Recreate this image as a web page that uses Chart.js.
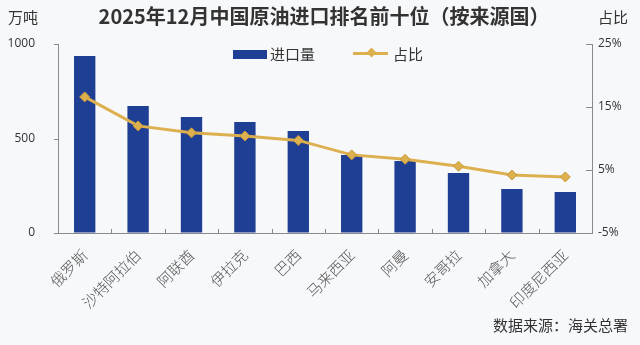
<!DOCTYPE html>
<html>
<head>
<meta charset="utf-8">
<script src="https://cdn.jsdelivr.net/npm/chart.js@4"></script>
<style>
  body { margin: 0; background: #f7f8fa; }
  #wrap { position: relative; width: 640px; height: 345px; font-family: "Noto Sans CJK SC", "Noto Sans", sans-serif; color: #333; }
  #wrap canvas { position: absolute; left: 0; top: 0; }
  .txt { position: absolute; white-space: nowrap; line-height: 1; }
  #title { left: 0; width: 648px; top: 6px; text-align: center; font-size: 20px; font-weight: bold; }
  .swatch { position: absolute; }
</style>
</head>
<body>
<div id="wrap">
  <canvas id="oilChart" width="640" height="345"></canvas>
  <div class="txt" id="title">2025年12月中国原油进口排名前十位（按来源国）</div>
  <div class="txt" style="left:8px;top:9px;font-size:15px;">万吨</div>
  <div class="txt" style="left:598px;top:9px;font-size:15px;">占比</div>
  <!-- legend -->
  <div class="swatch" style="left:233px;top:50px;width:34px;height:9px;background:#1e3f93;"></div>
  <div class="txt" style="left:270px;top:46px;font-size:15px;">进口量</div>
  <div class="swatch" style="left:353px;top:52px;width:35px;height:3px;background:#ddb04f;"></div>
  <div class="swatch" style="left:368px;top:49px;width:7px;height:7px;background:#ddb04f;transform:rotate(45deg);"></div>
  <div class="txt" style="left:393px;top:46px;font-size:15px;">占比</div>
  <div class="txt" style="right:12px;top:317px;font-size:15px;">数据来源：海关总署</div>
</div>
<script>
// top ten crude oil sources, Dec 2025
const countries = ['俄罗斯', '沙特阿拉伯', '阿联酋', '伊拉克', '巴西', '马来西亚', '阿曼', '安哥拉', '加拿大', '印度尼西亚'];
const importVolume = [936, 672, 614, 587, 540, 413, 381, 317, 233, 217];   // 万吨
const importShare = [16.6, 12.0, 10.9, 10.4, 9.7, 7.4, 6.7, 5.6, 4.2, 3.9];  // %

const leftTicks = [0, 500, 1000];
const rightTicks = [-5, 5, 15, 25];

const axisColor = '#8a8a8a';
const tickFont = { family: 'Open Sans', size: 12 };

// short tick marks: left axis outward, right axis and category axis inward
const axisTicks = {
  id: 'axisTicks',
  afterDraw(chart) {
    const { ctx, chartArea: a, scales } = chart;
    ctx.save();
    ctx.strokeStyle = axisColor;
    ctx.lineWidth = 1;
    ctx.beginPath();
    scales.y.ticks.forEach((t, i) => {
      const yy = Math.round(scales.y.getPixelForTick(i)) + 0.5;
      ctx.moveTo(a.left - 4, yy);
      ctx.lineTo(a.left, yy);
    });
    scales.y1.ticks.forEach((t, i) => {
      const yy = Math.round(scales.y1.getPixelForTick(i)) + 0.5;
      ctx.moveTo(a.right - 6, yy);
      ctx.lineTo(a.right, yy);
    });
    for (let i = 0; i <= countries.length; i++) {
      const xx = Math.round(scales.x.getPixelForValue(i - 0.5)) + 0.5;
      ctx.moveTo(xx, a.bottom);
      ctx.lineTo(xx, a.bottom - 4);
    }
    ctx.stroke();
    ctx.restore();
  }
};

new Chart(document.getElementById('oilChart'), {
  data: {
    labels: countries,
    datasets: [
      {
        type: 'line',
        label: '占比',
        data: importShare,
        yAxisID: 'y1',
        order: 0,
        borderColor: '#ddb04f',
        backgroundColor: '#ddb04f',
        borderWidth: 3,
        tension: 0,
        pointStyle: 'rectRot',
        pointRadius: 5,
        pointBorderWidth: 1,
        pointBorderColor: '#c99a3a'
      },
      {
        type: 'bar',
        label: '进口量',
        data: importVolume,
        yAxisID: 'y',
        order: 1,
        backgroundColor: '#1e3f93',
        categoryPercentage: 1,
        barPercentage: 0.4
      }
    ]
  },
  options: {
    responsive: false,
    animation: false,
    devicePixelRatio: 1,
    layout: { padding: { top: 44, left: 0, right: 0, bottom: 0 } },
    plugins: {
      legend: { display: false },
      tooltip: { enabled: false }
    },
    scales: {
      x: {
        offset: true,
        grid: { drawOnChartArea: false, drawTicks: false },
        border: { color: axisColor },
        ticks: {
          autoSkip: false,
          maxRotation: 45,
          minRotation: 45,
          padding: 13,
          color: '#555',
          font: { family: 'Noto Sans CJK SC', size: 15, weight: 300 }
        },
        afterFit(scale) { scale.height = 112; }
      },
      y: {
        position: 'left',
        min: 0,
        max: 1000,
        afterBuildTicks(scale) { scale.ticks = leftTicks.map(v => ({ value: v })); },
        grid: { drawOnChartArea: false, drawTicks: false },
        border: { color: axisColor },
        ticks: { padding: 23, color: '#333', font: tickFont, callback: v => String(v) },
        afterFit(scale) { scale.width = 58; }
      },
      y1: {
        position: 'right',
        min: -5,
        max: 25,
        afterBuildTicks(scale) { scale.ticks = rightTicks.map(v => ({ value: v })); },
        grid: { drawOnChartArea: false, drawTicks: false },
        border: { color: axisColor },
        ticks: { padding: 6, color: '#333', font: tickFont, callback: v => v + '%' },
        afterFit(scale) { scale.width = 48; }
      }
    }
  },
  plugins: [axisTicks]
});
</script>
</body>
</html>
